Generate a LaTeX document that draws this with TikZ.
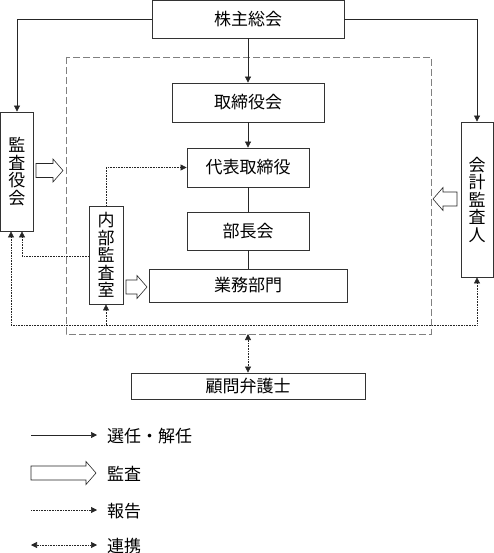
\documentclass[tikz,border=0pt]{standalone}
\usepackage{fontspec}
\newfontfamily\cjk{Noto Sans CJK JP}
\usetikzlibrary{arrows.meta}
\tikzset{
  x=1pt,y=-1pt,
  box/.style={draw=black!80,line width=0.8pt,fill=white,inner sep=0pt,font=\cjk\fontsize{17}{17.5}\selectfont,align=center},
  tipA/.style={-{Triangle[length=6pt,width=6pt]}},
  sel/.style={draw=black!85,line width=0.7pt,tipA},
  plain/.style={draw=black!85,line width=0.7pt},
  rep/.style={draw=black!85,line width=0.6pt,densely dotted,tipA},
  coop/.style={draw=black!85,line width=0.6pt,densely dotted,{Triangle[length=6pt,width=6pt]}-{Triangle[length=6pt,width=6pt]}},
  audit/.style={draw=black!85,line width=0.6pt,fill=white},
  frame/.style={draw=black!50,line width=0.8pt,dash pattern=on 7pt off 3pt},
  legend/.style={anchor=west,inner sep=0pt,font=\cjk\fontsize{17}{17.5}\selectfont}
}
% hollow audit arrow: tail x, tip x, y
\newcommand\auditarrow[3]{%
  \pgfmathsetmacro\hd{((#2)>(#1))?10:-10}%
  \draw[audit] (#1,#3-7) -- (#2-\hd,#3-7) -- (#2-\hd,#3-11.5) -- (#2,#3) -- (#2-\hd,#3+11.5) -- (#2-\hd,#3+7) -- (#1,#3+7) -- cycle;}
\begin{document}
\begin{tikzpicture}
\useasboundingbox (0,0) rectangle (494,553);
% dashed frame
\draw[frame] (66,57) rectangle (431,334);
\coordinate (frameS) at (248,334);
% nodes
\node[box,minimum width=192,minimum height=37.5] (gm) at (248,19.25) {株主総会};
\node[box,minimum width=152,minimum height=39] (bod) at (248,102.5) {取締役会};
\node[box,minimum width=122,minimum height=39] (ceo) at (248,167.5) {代表取締役};
\node[box,minimum width=122,minimum height=38] (mgr) at (248,231) {部長会};
\node[box,minimum width=198,minimum height=33] (ops) at (248,285.5) {業務部門};
\node[box,minimum width=234,minimum height=26] (law) at (248,386) {顧問弁護士};
\node[box,minimum width=33,minimum height=119] (kansa) at (17,171.5) {監\\査\\役\\会};
\node[box,minimum width=32,minimum height=155] (acct) at (477,199.5) {会\\計\\監\\査\\人};
\node[box,minimum width=34,minimum height=98] (naibu) at (106,255) {内\\部\\監\\査\\室};
% selection / dismissal
\draw[sel] (gm.west) -| (kansa.north);
\draw[sel] (gm.east) -| (acct.north);
\draw[sel] (gm.south) -- (bod.north);
\draw[sel] (bod.south) -- (ceo.north);
\draw[plain] (ceo.south) -- (mgr.north);
\draw[plain] (mgr.south) -- (ops.north);
% audit arrows
\auditarrow{36}{63}{170.5}
\auditarrow{457}{433}{199}
\auditarrow{126}{147}{287}
% reports
\draw[rep] (naibu.north) |- (ceo.west);
\draw[rep] (naibu.west |- 0,256) -| (kansa.south -| 22,0);
% cooperation bus
\coordinate (busL) at (11,325);
\coordinate (busR) at (477,325);
\coordinate (busM) at (106,325);
\draw[coop] (kansa.south -| busL) -- (busL) -- (busR) -- (acct.south);
\draw[rep] (busM) -- (naibu.south);
\draw[coop] (frameS) -- (law.north);
% legend
\coordinate (l1a) at (31,435); \coordinate (l1b) at (97,435);
\draw[sel] (l1a) -- (l1b);
\node[legend] (t1) at (107,436) {選任・解任};
\auditarrow{31}{96}{473}
\node[legend] (t2) at (107,474) {監査};
\coordinate (l3a) at (31,510); \coordinate (l3b) at (97,510);
\draw[rep] (l3a) -- (l3b);
\node[legend] (t3) at (107,511) {報告};
\coordinate (l4a) at (31,545); \coordinate (l4b) at (97,545);
\draw[coop] (l4a) -- (l4b);
\node[legend] (t4) at (107,546) {連携};
\end{tikzpicture}
\end{document}
